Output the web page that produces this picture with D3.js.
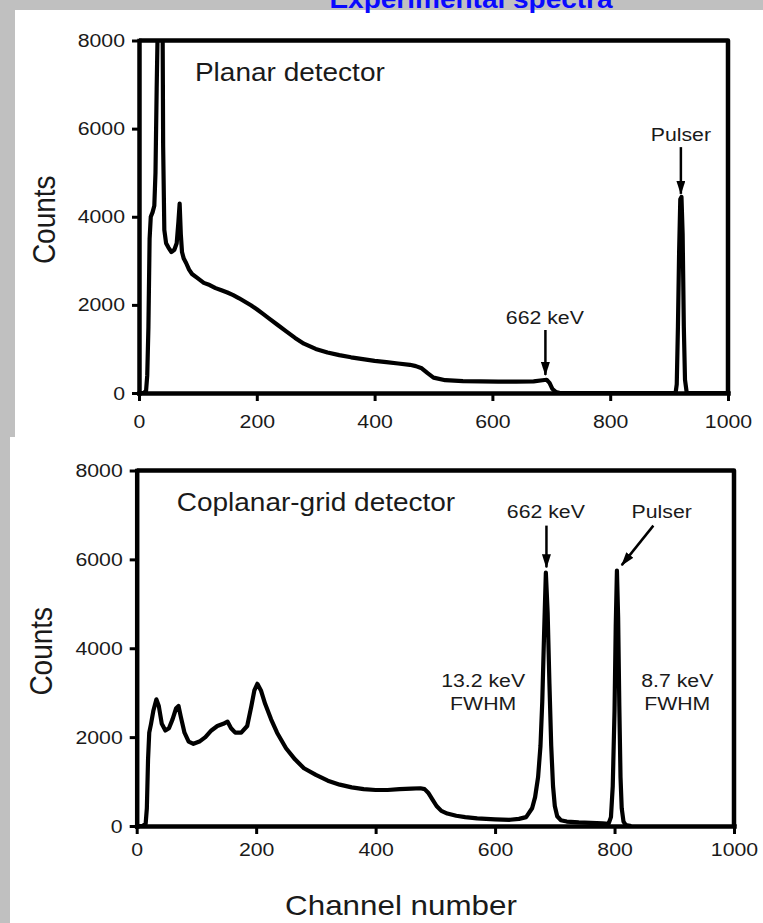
<!DOCTYPE html>
<html>
<head>
<meta charset="utf-8">
<script src="https://cdn.jsdelivr.net/npm/d3@7"></script>
<style>
  body { margin: 0; background: #c0c0c0; }
  svg { display: block; }
</style>
</head>
<body>
<div id="chart"></div>
<script>
// planar detector spectrum (channel, counts)
const planarChannel = [0, 8, 12, 14, 16, 18, 20, 23, 26, 28,
  30, 32, 35, 38, 40, 41, 43, 46, 50, 55,
  60, 64, 67, 69, 71, 73, 76, 80, 85, 90,
  100, 110, 120, 130, 140, 150, 160, 170, 180, 190,
  200, 210, 220, 235, 250, 265, 280, 300, 320, 340,
  360, 380, 400, 420, 440, 460, 470, 480, 490, 500,
  520, 550, 580, 610, 640, 670, 685, 692, 697, 702,
  708, 715, 800, 911, 913, 915, 917, 919, 921, 923,
  925, 927, 930, 1000]
const planarCounts = [0, 0, 50, 400, 1500, 3500, 4000, 4100, 4250, 5000,
  6900, 8500, 9500, 9500, 8600, 5600, 3700, 3400, 3300, 3200,
  3250, 3400, 3900, 4300, 3600, 3200, 3050, 2950, 2800, 2700,
  2600, 2500, 2450, 2380, 2330, 2280, 2220, 2150, 2070, 1990,
  1900, 1800, 1700, 1550, 1400, 1250, 1120, 1000, 920, 860,
  810, 770, 730, 700, 670, 640, 610, 560, 450, 350,
  290, 270, 265, 260, 260, 265, 290, 300, 230, 90,
  20, 0, 0, 0, 200, 1500, 3200, 4400, 4450, 3600,
  1500, 300, 0, 0]

// coplanar-grid detector spectrum
const coplanarChannel = [0, 10, 15, 17, 19, 21, 24, 28, 33, 37,
  42, 48, 54, 60, 66, 70, 74, 80, 87, 95,
  105, 115, 125, 135, 145, 152, 158, 165, 175, 185,
  192, 197, 202, 208, 215, 225, 235, 250, 265, 280,
  300, 320, 340, 360, 380, 400, 420, 440, 460, 475,
  482, 488, 495, 502, 510, 520, 535, 550, 570, 600,
  625, 640, 652, 662, 667, 672, 676, 679, 682, 685,
  688, 691, 694, 697, 700, 704, 710, 720, 740, 760,
  780, 790, 794, 797, 800, 802, 804, 806, 808, 810,
  812, 815, 819, 828]
const coplanarCounts = [0, 0, 50, 400, 1500, 2100, 2300, 2600, 2850, 2700,
  2300, 2150, 2200, 2400, 2650, 2700, 2450, 2100, 1900, 1850,
  1900, 2000, 2150, 2250, 2300, 2350, 2200, 2100, 2100, 2250,
  2700, 3050, 3200, 3050, 2750, 2400, 2100, 1750, 1500, 1300,
  1150, 1020, 930, 870, 830, 810, 810, 830, 840, 850,
  830, 750, 600, 450, 340, 280, 230, 200, 170, 150,
  140, 160, 200, 400, 650, 1100, 1800, 2800, 4300, 5700,
  4800, 3200, 1800, 900, 450, 220, 130, 100, 80, 70,
  60, 50, 200, 900, 2600, 4500, 5750, 4700, 2700, 1100,
  400, 100, 20, 0]

const xTicks = [0, 200, 400, 600, 800, 1000]
const yTicks = [0, 2000, 4000, 6000, 8000]

const width = 763
const height = 923
const sx = 1.12 // the scanned lettering is a little wide

const svg = d3.select('#chart').append('svg')
  .attr('width', width)
  .attr('height', height)

svg.append('rect').attr('width', width).attr('height', height).attr('fill', '#c0c0c0')
svg.append('rect').attr('x', 15).attr('y', 10).attr('width', width - 15).attr('height', 427).attr('fill', '#fff')
svg.append('rect').attr('x', 10).attr('y', 437).attr('width', width - 10).attr('height', height - 437).attr('fill', '#fff')

const defs = svg.append('defs')
defs.append('marker')
  .attr('id', 'head')
  .attr('viewBox', '0 0 14 9')
  .attr('refX', 13)
  .attr('refY', 4.5)
  .attr('markerWidth', 14)
  .attr('markerHeight', 9)
  .attr('markerUnits', 'userSpaceOnUse')
  .attr('orient', 'auto')
  .append('path')
  .attr('d', 'M0,0L14,4.5L0,9Z')
  .attr('fill', '#000')

function label (g, x, y, str, size, anchor, rot) {
  return g.append('text')
    .attr('transform', `translate(${x},${y}) scale(${sx},1)` + (rot ? ` rotate(${rot})` : ''))
    .attr('text-anchor', anchor || 'middle')
    .attr('font-family', 'Liberation Sans, Arial, sans-serif')
    .attr('font-size', size)
    .attr('fill', '#1a1a1a')
    .text(str)
}

// title, mostly cut off at the top of the slide
svg.append('text')
  .attr('transform', `translate(471,8) scale(${sx},1)`)
  .attr('text-anchor', 'middle')
  .attr('font-family', 'Liberation Sans, Arial, sans-serif')
  .attr('font-weight', 'bold')
  .attr('font-size', 25)
  .attr('fill', '#0a0aff')
  .text('Experimental spectra')

const panels = [
  {
    id: 'planar', channel: planarChannel, counts: planarCounts,
    left: 139, right: 728, top: 40.5, bottom: 393, labelPad: 14, countsX: 55,
    notes: [
      { t: 'Planar detector', ch: 95, c: 7080, size: 25, anchor: 'start' },
      { t: 'Pulser', ch: 920, c: 5720, size: 19 },
      { t: '662 keV', ch: 689, c: 1565, size: 19 }
    ],
    arrows: [
      { from: [920, 5580], to: [920, 4520] },
      { from: [690, 1430], to: [690, 410] }
    ]
  },
  {
    id: 'coplanar', channel: coplanarChannel, counts: coplanarCounts,
    left: 136.7, right: 734, top: 470.5, bottom: 826, labelPad: 9, countsX: 52,
    notes: [
      { t: 'Coplanar-grid detector', ch: 67, c: 7080, size: 25, anchor: 'start' },
      { t: '662 keV', ch: 685, c: 6920, size: 19 },
      { t: 'Pulser', ch: 879, c: 6920, size: 19 },
      { t: '13.2 keV', ch: 580, c: 3120, size: 19 },
      { t: 'FWHM', ch: 580, c: 2610, size: 19 },
      { t: '8.7 keV', ch: 905, c: 3120, size: 19 },
      { t: 'FWHM', ch: 905, c: 2610, size: 19 }
    ],
    arrows: [
      { from: [686, 6760], to: [686, 5820] },
      { from: [865, 6760], to: [812, 5870] }
    ]
  }
]

panels.forEach(p => {
  const g = svg.append('g')

  const x = d3.scaleLinear().domain([0, 1000]).range([p.left, p.right])
  const y = d3.scaleLinear().domain([0, 8000]).range([p.bottom, p.top])

  defs.append('clipPath').attr('id', 'clip-' + p.id)
    .append('rect')
    .attr('x', p.left).attr('y', p.top)
    .attr('width', p.right - p.left).attr('height', p.bottom - p.top)

  const line = d3.line()
    .x(d => x(d[0]))
    .y(d => y(d[1]))

  g.append('path')
    .datum(d3.zip(p.channel, p.counts))
    .attr('clip-path', `url(#clip-${p.id})`)
    .attr('d', line)
    .attr('fill', 'none')
    .attr('stroke', '#000')
    .attr('stroke-width', 4.2)
    .attr('stroke-linejoin', 'round')

  // box: top and right side
  g.append('path')
    .attr('d', `M${x(0)},${y(8000)}H${x(1000)}V${y(0)}`)
    .attr('fill', 'none')
    .attr('stroke', '#000')
    .attr('stroke-width', 4.5)
    .attr('stroke-linejoin', 'round')

  const yAxis = g.append('g')
    .attr('transform', `translate(${p.left},0)`)
    .call(d3.axisLeft(y).tickValues(yTicks).tickFormat(d3.format('d'))
      .tickSize(7).tickSizeOuter(0).tickPadding(7))
  yAxis.selectAll('text').attr('x', -14 / sx).attr('transform', `scale(${sx},1)`)

  const xAxis = g.append('g')
    .attr('transform', `translate(0,${p.bottom})`)
    .call(d3.axisBottom(x).tickValues(xTicks).tickFormat(d3.format('d'))
      .tickSize(8).tickSizeOuter(0).tickPadding(p.labelPad))
  xAxis.selectAll('text').attr('transform', `scale(${sx},1)`)

  g.selectAll('.domain').attr('stroke-width', 4.5).attr('stroke-linecap', 'square')
  g.selectAll('.tick line').attr('stroke-width', 3)
  g.selectAll('.tick text')
    .attr('font-family', 'Liberation Sans, Arial, sans-serif')
    .attr('font-size', 19)
    .attr('fill', '#1a1a1a')

  label(g, p.countsX, (p.top + p.bottom) / 2 + 3, 'Counts', 28, 'middle', -90)

  p.notes.forEach(n => label(g, x(n.ch), y(n.c), n.t, n.size, n.anchor))

  g.selectAll('.arrow')
    .data(p.arrows)
    .join('line')
    .attr('class', 'arrow')
    .attr('x1', d => x(d.from[0]))
    .attr('y1', d => y(d.from[1]))
    .attr('x2', d => x(d.to[0]))
    .attr('y2', d => y(d.to[1]))
    .attr('stroke', '#000')
    .attr('stroke-width', 2.5)
    .attr('marker-end', 'url(#head)')
})

label(svg, 401, 915, 'Channel number', 28)
</script>
</body>
</html>
